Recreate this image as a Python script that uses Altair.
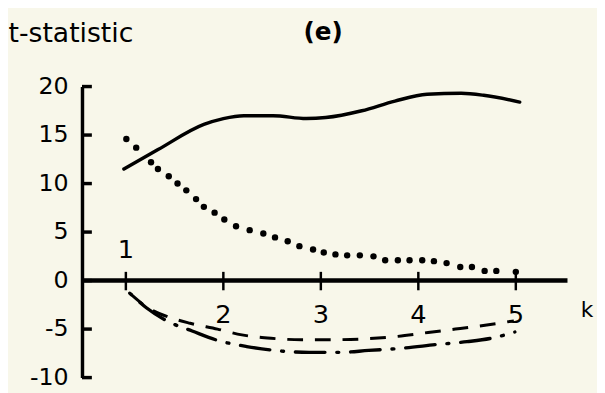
import altair as alt
import pandas as pd

# ---- data ----
solid_x = [0.98, 1.33, 1.80, 2.00, 2.21, 2.51, 2.85, 3.05, 3.42, 3.76, 4.09, 4.44, 4.67, 5.04]
solid_y = [11.5, 13.5, 16.1, 16.7, 17.0, 17.0, 16.7, 16.8, 17.5, 18.5, 19.2, 19.3, 19.1, 18.4]

dotted_x = [1.005, 1.106, 1.258, 1.329, 1.44, 1.53, 1.62, 1.72, 1.80, 1.91, 2.01, 2.13, 2.27,
            2.41, 2.53, 2.66, 2.78, 2.92, 3.03, 3.15, 3.27, 3.40, 3.54, 3.66, 3.79, 3.91,
            4.04, 4.16, 4.29, 4.43, 4.55, 4.68, 4.80, 5.00]
dotted_y = [14.6, 13.7, 12.2, 11.5, 10.75, 10.0, 9.3, 8.4, 7.6, 7.0, 6.3, 5.6, 5.2,
            4.85, 4.45, 4.05, 3.55, 3.2, 2.9, 2.7, 2.6, 2.6, 2.5, 2.1, 2.1, 2.1,
            2.1, 2.0, 1.8, 1.4, 1.4, 1.0, 1.0, 0.9]

dashed_x = [1.05, 1.21, 1.45, 1.66, 1.94, 2.19, 2.49, 2.80, 3.08, 3.47, 3.79, 4.10, 4.38, 4.72, 4.98]
dashed_y = [-1.4, -2.7, -3.8, -4.4, -5.0, -5.6, -5.95, -6.1, -6.1, -6.0, -5.75, -5.35, -5.0, -4.55, -4.15]

dashdot_x = [1.04, 1.21, 1.45, 1.68, 1.92, 2.24, 2.53, 2.88, 3.20, 3.49, 3.86, 4.18, 4.50, 4.77, 4.99]
dashdot_y = [-1.3, -2.8, -4.3, -5.2, -6.1, -6.8, -7.2, -7.4, -7.4, -7.2, -6.95, -6.6, -6.3, -5.9, -5.3]

x_ticks = [1, 2, 3, 4, 5]
x_tick_labels = ["1", "2", "3", "4", "5"]
y_ticks = [-10, -5, 0, 5, 10, 15, 20]
x_axis_end = 5.53
x_name = "k"
x_name_pos = 5.73
y_title = "t-statistic"
panel_title = "(e)"

X_DOMAIN = [0.55, 5.6]
Y_DOMAIN = [-10, 20]
FONT = "DejaVu Sans"
INK = "black"

xs = alt.Scale(domain=X_DOMAIN, nice=False, zero=False)
ys = alt.Scale(domain=Y_DOMAIN, nice=False, zero=False)

y_axis = alt.Axis(
    values=y_ticks, title=y_title, titleAngle=0, titleAlign="left",
    titleBaseline="alphabetic", titleX=-75, titleY=-46, titleFont=FONT,
    titleFontSize=27, titleFontWeight="normal", titleColor=INK,
    labelFont=FONT, labelFontSize=24, labelColor=INK, labelPadding=14,
    labelExpr="'' + datum.value",
    labelOverlap=False, ticks=False, domainColor=INK, domainWidth=3.5, grid=False,
)


def X(field):
    return alt.X(field, type="quantitative", scale=xs, axis=None)


def Y(field):
    return alt.Y(field, type="quantitative", scale=ys, axis=y_axis)


def YD(v):
    return alt.YDatum(v, type="quantitative", scale=ys, axis=y_axis)


solid_df = pd.DataFrame({"x": solid_x, "y": solid_y})
dotted_df = pd.DataFrame({"x": dotted_x, "y": dotted_y})
dashed_df = pd.DataFrame({"x": dashed_x, "y": dashed_y})
dashdot_df = pd.DataFrame({"x": dashdot_x, "y": dashdot_y})
xt_df = pd.DataFrame({"x": x_ticks, "label": x_tick_labels})
yt_df = pd.DataFrame({"y": y_ticks})
k_df = pd.DataFrame({"x": [x_name_pos], "label": [x_name]})

# zero line acting as x axis
zero_line = alt.Chart(pd.DataFrame({"x": [X_DOMAIN[0]], "x2": [x_axis_end]})).mark_rule(
    color=INK, strokeWidth=4.5
).encode(x=X("x"), x2="x2:Q", y=YD(0))

# inward y ticks
y_tick_marks = alt.Chart(yt_df).mark_rule(color=INK, strokeWidth=3.5).encode(
    x=alt.value(0), x2=alt.value(10), y=Y("y")
)

# x ticks crossing the zero line
x_tick_marks = alt.Chart(xt_df).mark_rule(color=INK, strokeWidth=2.5).encode(
    x=X("x"), y=YD(0.9), y2=alt.datum(-1.0)
)

x_labels_below = alt.Chart(xt_df).transform_filter("datum.x != 1").mark_text(
    font=FONT, fontSize=26, color=INK, dy=35
).encode(x=X("x"), y=YD(0), text="label:N")

x_label_one = alt.Chart(xt_df).transform_filter("datum.x == 1").mark_text(
    font=FONT, fontSize=26, color=INK, dy=-31
).encode(x=X("x"), y=YD(0), text="label:N")

k_label = alt.Chart(k_df).mark_text(font=FONT, fontSize=22, color=INK, dy=30).encode(
    x=X("x"), y=YD(0), text="label:N"
)

solid = alt.Chart(solid_df).mark_line(
    color=INK, strokeWidth=3.5, interpolate="monotone", strokeCap="round"
).encode(x=X("x"), y=Y("y"))

dotted = alt.Chart(dotted_df).mark_circle(color=INK, size=42, opacity=1).encode(
    x=X("x"), y=Y("y")
)

dashed = alt.Chart(dashed_df).mark_line(
    color=INK, strokeWidth=3, interpolate="monotone", strokeDash=[16, 12]
).encode(x=X("x"), y=Y("y"))

dashdot = alt.Chart(dashdot_df).mark_line(
    color=INK, strokeWidth=3.4, interpolate="monotone", strokeCap="round",
    strokeDash=[30, 12, 2, 12], strokeDashOffset=42
).encode(x=X("x"), y=Y("y"))

chart = alt.layer(
    zero_line, y_tick_marks, x_tick_marks, x_labels_below, x_label_one, k_label,
    solid, dotted, dashed, dashdot
).properties(
    width=499,
    height=295,
    autosize=alt.AutoSizeParams(type="none"),
    padding={"left": 75, "top": 77, "right": 23, "bottom": 13},
    background="#f8f7ea",
    title=alt.TitleParams(
        panel_title, anchor="middle", frame="group", font=FONT, fontSize=25,
        fontWeight="bold", color=INK, dx=-5, offset=-26
    ),
).configure_view(stroke=None)

chart.save("out.html", embed_options={"renderer": "svg", "actions": False})
